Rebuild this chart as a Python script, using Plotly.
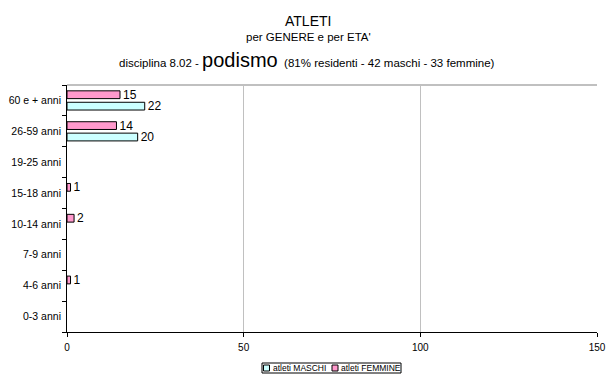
import plotly.graph_objects as go

categories = ["0-3 anni", "4-6 anni", "7-9 anni", "10-14 anni", "15-18 anni",
              "19-25 anni", "26-59 anni", "60 e + anni"]
maschi = [0, 0, 0, 0, 0, 0, 20, 22]
femmine = [0, 1, 0, 2, 1, 0, 14, 15]
x_ticks = [0, 50, 100, 150]
series_names = ["atleti MASCHI", "atleti FEMMINE"]
series_colors = ["#CCFFFF", "#FF99CC"]

FONT = "Liberation Sans, Arial, sans-serif"

def labels(vals):
    return [str(v) if v else "" for v in vals]

def edge_widths(vals):
    return [1 if v else 0 for v in vals]

fig = go.Figure()
for name, vals, col in zip(series_names, [maschi, femmine], series_colors):
    fig.add_trace(go.Bar(
        y=categories, x=vals, orientation="h", name=name,
        marker=dict(color=col, line=dict(color="#000000", width=edge_widths(vals))),
        text=labels(vals), textposition="outside", cliponaxis=False,
        constraintext="none",
        textfont=dict(size=12, color="#000000", family=FONT),
        showlegend=False,
    ))

L, R, T, B = 67, 9, 85, 44
W, H = 606, 376
pw, ph = W - L - R, H - T - B

def px(xp):
    return (xp - L) / pw

def py(yp):
    return (H - B - yp) / ph

# manual compact legend (Excel style)
shapes = [dict(type="line", xref="paper", yref="paper", x0=0, x1=1, y0=1, y1=1,
               line=dict(color="#C0C0C0", width=2)),
          dict(type="rect", xref="paper", yref="paper", x0=px(262), x1=px(401),
               y0=py(373), y1=py(363), line=dict(color="#000000", width=1),
               fillcolor="white")]
annotations = []
legend_x = [263.5, 332]
for lx, name, col in zip(legend_x, series_names, series_colors):
    shapes.append(dict(type="rect", xref="paper", yref="paper", x0=px(lx), x1=px(lx + 6),
                       y0=py(371), y1=py(365), line=dict(color="#000000", width=1),
                       fillcolor=col))
    annotations.append(dict(text=name, x=px(lx + 7), y=py(368), xref="paper", yref="paper",
                            showarrow=False, font=dict(size=8.5), xanchor="left",
                            yanchor="middle"))

annotations += [
    dict(text="ATLETI", x=px(308), y=py(21), xref="paper", yref="paper",
         showarrow=False, font=dict(size=14), xanchor="center", yanchor="middle"),
    dict(text="per GENERE e per ETA'", x=px(308), y=py(37), xref="paper", yref="paper",
         showarrow=False, font=dict(size=11.5), xanchor="center", yanchor="middle"),
    dict(text="disciplina 8.02 - <span style='font-size:20px'>podismo</span>  (81% residenti - 42 maschi - 33 femmine)",
         x=px(307), y=py(60), xref="paper", yref="paper",
         showarrow=False, font=dict(size=11.5), xanchor="center", yanchor="middle"),
]

fig.update_layout(
    width=W, height=H,
    margin=dict(l=L, r=R, t=T, b=B, pad=0, autoexpand=False),
    paper_bgcolor="white", plot_bgcolor="white",
    font=dict(family=FONT, size=10, color="#000000"),
    barmode="group", bargap=0.26, bargroupgap=0.32,
    showlegend=False,
    xaxis=dict(range=[0, 150], tickvals=x_ticks, showgrid=True, gridcolor="#C0C0C0",
               gridwidth=1, zeroline=False, showline=True, linecolor="#000000", linewidth=1,
               ticks="outside", ticklen=4, tickcolor="#000000", tickfont=dict(size=10),
               ticklabelstandoff=2, automargin=False),
    yaxis=dict(categoryorder="array", categoryarray=categories, showline=True,
               linecolor="#000000", linewidth=1, ticks="outside", ticklen=4,
               tickson="boundaries", tickcolor="#000000", showgrid=False,
               tickfont=dict(size=10.5), ticksuffix=" ", automargin=False),
    annotations=annotations,
    shapes=shapes,
)

fig.write_html("out.html", config={"displayModeBar": False},
               post_script="document.body.style.margin='0';document.body.style.overflow='hidden';")
